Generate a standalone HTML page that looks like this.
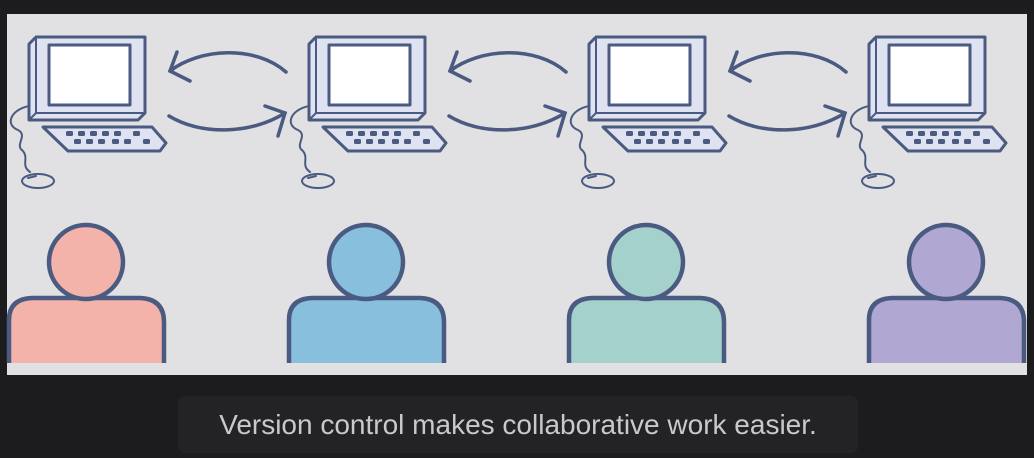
<!DOCTYPE html>
<html><head><style>
html,body{margin:0;padding:0;background:#1c1c1e;width:1034px;height:458px;overflow:hidden}
svg{position:absolute;left:0;top:0}
.cap{position:absolute;left:178px;top:396px;width:680px;height:57px;background:#232326;border-radius:7px;color:#c9c9cc;font:28px "Liberation Sans",sans-serif;text-align:center;line-height:57px;letter-spacing:0px;white-space:nowrap}
</style></head><body>
<svg width="1034" height="458" viewBox="0 0 1034 458">
<rect x="7" y="14" width="1020" height="361" fill="#e1e1e3"/>
<defs>
<g id="pc" fill="none" stroke="#4a5a80" stroke-width="3" stroke-linejoin="round" stroke-linecap="round">
  <path d="M36 37 L145 37 L145 113 L138 120 L29 120 L29 44 Z" fill="#dfe2f1"/>
  <path d="M36 37 L36 113 L29 120 M36 113 L145 113" stroke-width="2"/>
  <rect x="49" y="45" width="81" height="60" fill="#fff"/>
  <path d="M43 127 L152 127 L166 143 L160 151 L68 151 Z" fill="#dfe2f1"/>
  <g fill="#4a5a80" stroke="none">
    <rect x="66" y="131" width="7" height="5" rx="1.5"/><rect x="78" y="131" width="7" height="5" rx="1.5"/><rect x="90" y="131" width="7" height="5" rx="1.5"/><rect x="102" y="131" width="7" height="5" rx="1.5"/><rect x="114" y="131" width="7" height="5" rx="1.5"/><rect x="133" y="131" width="7" height="5" rx="1.5"/>
    <rect x="74" y="139" width="7" height="5" rx="1.5"/><rect x="86" y="139" width="7" height="5" rx="1.5"/><rect x="98" y="139" width="7" height="5" rx="1.5"/><rect x="112" y="139" width="7" height="5" rx="1.5"/><rect x="124" y="139" width="7" height="5" rx="1.5"/><rect x="143" y="139" width="7" height="5" rx="1.5"/>
  </g>
  <path d="M29 106 C10 110 5 125 18 130 C28 135 15 145 22 150 C30 158 20 165 30 172" stroke-width="2"/>
  <ellipse cx="38" cy="181" rx="16" ry="7" stroke-width="2"/>
  <path d="M28 178 L36 176" stroke-width="2"/>
</g>
<g id="arr" fill="none" stroke="#4a5a80" stroke-width="3.5" stroke-linecap="round">
  <path d="M286 72 C255 45 200 48 170 71"/>
  <path d="M177 52 L170 71 L190 81"/>
  <path d="M169 116 C200 135 250 135 285 113"/>
  <path d="M265 106 L285 113 L278 136"/>
</g>
</defs>
<use href="#pc"/><use href="#pc" x="280"/><use href="#pc" x="560"/><use href="#pc" x="840"/>
<use href="#arr"/><use href="#arr" x="280"/><use href="#arr" x="560"/>
<g stroke="#4a5a80" stroke-width="4.5">
  <path d="M9 363 L9 320 Q9 299 32 298 L140 298 Q164 299 164 322 L164 363" fill="#f3b3aa"/>
  <circle cx="86" cy="262" r="37" fill="#f3b3aa"/>
  <path d="M289 363 L289 320 Q289 299 312 298 L420 298 Q444 299 444 322 L444 363" fill="#87bfdd"/>
  <circle cx="366" cy="262" r="37" fill="#87bfdd"/>
  <path d="M569 363 L569 320 Q569 299 592 298 L700 298 Q724 299 724 322 L724 363" fill="#a4d1cb"/>
  <circle cx="646" cy="262" r="37" fill="#a4d1cb"/>
  <path d="M869 363 L869 320 Q869 299 892 298 L1000 298 Q1024 299 1024 322 L1024 363" fill="#b0a8d3"/>
  <circle cx="946" cy="262" r="37" fill="#b0a8d3"/>
</g>
<rect x="7" y="364" width="1020" height="11" fill="#e1e1e3"/>
</svg>
<div class="cap">Version control makes collaborative work easier.</div>
</body></html>
